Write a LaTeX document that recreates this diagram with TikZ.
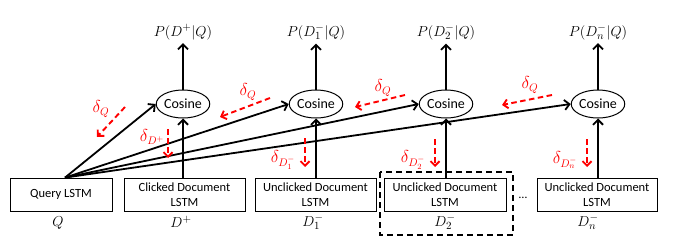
\documentclass[tikz,border=0pt]{standalone}
\usepackage{fontspec}
\setmainfont{Carlito}
\usetikzlibrary{arrows.meta,shapes.geometric}
\tikzset{
  lstmbox/.style={draw, line width=1pt, minimum height=33pt, inner sep=1pt, align=center,
    font=\fontsize{12.5}{15.5}\selectfont},
  cosnode/.style={draw, ellipse, line width=1pt, minimum width=48pt, minimum height=28pt,
    inner sep=0pt, font=\fontsize{14}{15}\selectfont},
  mathlbl/.style={font=\fontsize{15}{17}\selectfont},
  fwd/.style={line width=1.8pt, -{Straight Barb[length=5pt,width=10pt,line width=1.8pt]}},
  backprop/.style={red, line width=1.9pt, dash pattern=on 5.5pt off 3.5pt,
    -{Straight Barb[length=4.5pt,width=9pt,line width=1.9pt]}},
  gradlbl/.style={red, font=\fontsize{16}{18}\selectfont}
}
\begin{document}
\begin{tikzpicture}[x=1pt, y=-1pt]
  \useasboundingbox (0,0) rectangle (674,241);
  % LSTM boxes along the bottom
  \node[lstmbox, minimum width=102pt] (query) at (61,194.5) {Query LSTM};
  \node[lstmbox, minimum width=121pt] (clicked) at (184.5,194.5) {Clicked Document\\LSTM};
  \node[lstmbox, minimum width=121pt] (uncone) at (315.5,194.5) {Unclicked Document\\LSTM};
  \node[lstmbox, minimum width=122pt] (unctwo) at (445,194.5) {Unclicked Document\\LSTM};
  \node[lstmbox, minimum width=120pt] (uncn) at (597,194.5) {Unclicked Document\\LSTM};
  \draw[line width=1.8pt, dash pattern=on 6pt off 4pt] (380,172) rectangle (513,235);
  \node[font=\fontsize{12}{14}\selectfont] (dots) at (523,198) {\ldots};
  \node[mathlbl] (lq) at (58,223) {$Q$};
  \node[mathlbl] (ldp) at (181,222) {$D^{+}$};
  \node[mathlbl] (ldone) at (313,222) {$D_1^{-}$};
  \node[mathlbl] (ldtwo) at (445,222) {$D_2^{-}$};
  \node[mathlbl] (ldn) at (588,222) {$D_n^{-}$};
  % cosine similarity nodes and outputs
  \node[cosnode] (cos1) at (183,104) {Cosine};
  \node[cosnode] (cos2) at (316,104) {Cosine};
  \node[cosnode] (cos3) at (446,104) {Cosine};
  \node[cosnode] (cos4) at (598,104) {Cosine};
  \node[mathlbl] (p1) at (183,32) {$P(D^{+}|Q)$};
  \node[mathlbl] (p2) at (316,32) {$P(D_1^{-}|Q)$};
  \node[mathlbl] (p3) at (446,32) {$P(D_2^{-}|Q)$};
  \node[mathlbl] (p4) at (598,32) {$P(D_n^{-}|Q)$};
  \foreach \i in {1,...,4}
    \draw[fwd] (cos\i.north) -- (p\i.south);
  \draw[fwd] (cos1 |- clicked.north) -- (cos1.south);
  \draw[fwd] (cos2 |- uncone.north) -- (cos2.south);
  \draw[fwd] (cos3 |- unctwo.north) -- (cos3.south);
  \draw[fwd] (cos4 |- uncn.north) -- (cos4.south);
  \coordinate (qsrc) at (65,177.6);
  \foreach \i in {1,...,4}
    \draw[fwd] (qsrc) -- (cos\i.west);
  % gradients flowing back
  \coordinate (gq1s) at (125,107); \coordinate (gq1e) at (97,137);
  \coordinate (gq2s) at (270,98);  \coordinate (gq2e) at (220,117);
  \coordinate (gq3s) at (405,95);  \coordinate (gq3e) at (355,107);
  \coordinate (gq4s) at (552,95);  \coordinate (gq4e) at (502,105);
  \foreach \i in {1,...,4}
    \draw[backprop] (gq\i s) -- (gq\i e);
  \node[gradlbl] (dq1) at (101,109) {$\delta_Q$};
  \node[gradlbl] (dq2) at (248,92) {$\delta_Q$};
  \node[gradlbl] (dq3) at (383,88) {$\delta_Q$};
  \node[gradlbl] (dq4) at (530,85) {$\delta_Q$};
  \coordinate (gd1s) at (168,129); \coordinate (gd1e) at (168,158);
  \coordinate (gd2s) at (305,138); \coordinate (gd2e) at (305,167);
  \coordinate (gd3s) at (435,139); \coordinate (gd3e) at (435,167);
  \coordinate (gd4s) at (587,139); \coordinate (gd4e) at (587,167);
  \foreach \i in {1,...,4}
    \draw[backprop] (gd\i s) -- (gd\i e);
  \node[gradlbl] (dd1) at (152,137) {$\delta_{D^{+}}$};
  \node[gradlbl] (dd2) at (283,160) {$\delta_{D_1^{-}}$};
  \node[gradlbl] (dd3) at (413,160) {$\delta_{D_2^{-}}$};
  \node[gradlbl] (dd4) at (565,160) {$\delta_{D_n^{-}}$};
\end{tikzpicture}
\end{document}
